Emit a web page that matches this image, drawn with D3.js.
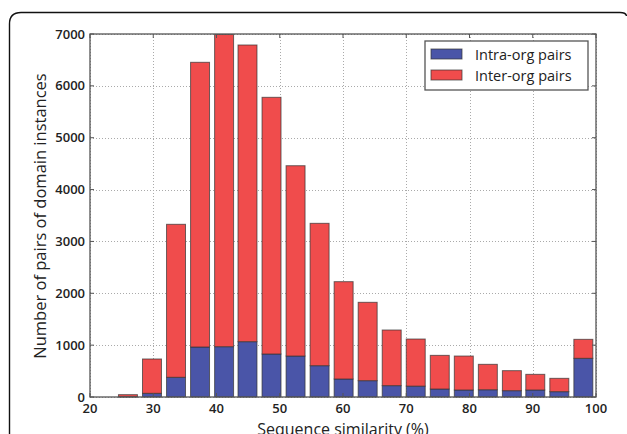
<!DOCTYPE html>
<html><head><meta charset="utf-8">
<script src="https://cdn.jsdelivr.net/npm/d3@7"></script>
<style>body{margin:0;background:#fff;} svg{display:block;}</style>
</head><body>
<svg id="c" width="627" height="434"></svg>
<script>
const binStarts = [24.5, 28.3, 32.1, 35.9, 39.7, 43.4, 47.2, 51.0, 54.8, 58.6, 62.4, 66.2, 70.0, 73.8, 77.6, 81.4, 85.2, 88.9, 92.7, 96.5];
const intraOrg = [5, 71, 380, 964, 970, 1067, 829, 790, 604, 347, 315, 219, 210, 154, 135, 140, 122, 135, 103, 746];
const totals   = [45, 733, 3330, 6454, 6990, 6788, 5779, 4460, 3349, 2224, 1826, 1292, 1118, 803, 790, 630, 508, 437, 360, 1112];
const binWidth = 3.0;
const xTicks = [20, 30, 40, 50, 60, 70, 80, 90, 100];
const yTicks = [0, 1000, 2000, 3000, 4000, 5000, 6000, 7000];
const seriesNames = ["Intra-org pairs", "Inter-org pairs"];
const colors = ["#4a55a8", "#f04c4c"];

const svg = d3.select("#c");
const font = "'Open Sans', sans-serif";

// outer rounded frame
svg.append("path")
  .attr("d", "M9.5,434 L9.5,24 Q9.5,12.5 21,12.5 L620,12.5 Q626,12.5 626.5,16")
  .attr("fill", "none").attr("stroke", "#111").attr("stroke-width", 1.4);

const L = 90, R = 596, T = 34, B = 397;
const x = d3.scaleLinear().domain([20, 100]).range([L, R]);
const y = d3.scaleLinear().domain([0, 7000]).range([B, T]);

const g = svg.append("g");

// grid
g.selectAll(".gx").data(xTicks).enter().append("line")
  .attr("x1", d => Math.round(x(d)) + 0.5).attr("x2", d => Math.round(x(d)) + 0.5)
  .attr("y1", T).attr("y2", B)
  .attr("stroke", "#aaa").attr("stroke-width", 1).attr("stroke-dasharray", "1,2");
g.selectAll(".gy").data(yTicks).enter().append("line")
  .attr("y1", d => Math.round(y(d)) + 0.5).attr("y2", d => Math.round(y(d)) + 0.5)
  .attr("x1", L).attr("x2", R)
  .attr("stroke", "#aaa").attr("stroke-width", 1).attr("stroke-dasharray", "1,2");

// bars
const data = binStarts.map((s, i) => ({s, intra: intraOrg[i], total: totals[i]}));
const bars = g.append("g");
data.forEach(d => {
  const bx = x(d.s), bw = x(d.s + binWidth) - x(d.s);
  bars.append("rect").attr("x", bx).attr("width", bw)
    .attr("y", y(d.intra)).attr("height", y(0) - y(d.intra))
    .attr("fill", colors[0]).attr("stroke", "#333").attr("stroke-width", 1).attr("stroke-opacity", 0.7);
  bars.append("rect").attr("x", bx).attr("width", bw)
    .attr("y", y(d.total)).attr("height", y(d.intra) - y(d.total))
    .attr("fill", colors[1]).attr("stroke", "#333").attr("stroke-width", 1).attr("stroke-opacity", 0.7);
});

// axes frame
g.append("rect").attr("x", L).attr("y", T).attr("width", R - L).attr("height", B - T)
  .attr("fill", "none").attr("stroke", "#555").attr("stroke-width", 1.3);

// ticks (inside)
xTicks.forEach(t => {
  const px = x(t);
  g.append("line").attr("x1", px).attr("x2", px).attr("y1", B).attr("y2", B - 4).attr("stroke", "#555");
  g.append("line").attr("x1", px).attr("x2", px).attr("y1", T).attr("y2", T + 4).attr("stroke", "#555");
});
yTicks.forEach(t => {
  const py = y(t);
  g.append("line").attr("x1", L).attr("x2", L + 4).attr("y1", py).attr("y2", py).attr("stroke", "#555");
  g.append("line").attr("x1", R).attr("x2", R - 4).attr("y1", py).attr("y2", py).attr("stroke", "#555");
});

// tick labels
g.selectAll(".xl").data(xTicks).enter().append("text")
  .attr("x", d => x(d)).attr("y", 413).attr("text-anchor", "middle")
  .attr("font-family", font).attr("font-size", 13).attr("font-weight", 600).attr("fill", "#222")
  .text(d => d);
g.selectAll(".yl").data(yTicks).enter().append("text")
  .attr("x", 85).attr("y", d => y(d) + 4.5).attr("text-anchor", "end")
  .attr("font-family", font).attr("font-size", 13).attr("font-weight", 600).attr("fill", "#222")
  .text(d => d);

// axis titles
svg.append("text").attr("x", 343).attr("y", 435).attr("text-anchor", "middle")
  .attr("font-family", font).attr("font-size", 16).attr("fill", "#222")
  .text("Sequence similarity (%)");
svg.append("text").attr("transform", "translate(46,216) rotate(-90)").attr("text-anchor", "middle")
  .attr("font-family", font).attr("font-size", 16.5).attr("fill", "#222")
  .text("Number of pairs of domain instances");

// legend
const lg = svg.append("g");
lg.append("rect").attr("x", 425).attr("y", 41).attr("width", 163).attr("height", 49)
  .attr("fill", "#fff").attr("stroke", "#555").attr("stroke-width", 1.3);
seriesNames.forEach((n, i) => {
  lg.append("rect").attr("x", 431).attr("y", 49 + i * 21).attr("width", 31).attr("height", 10)
    .attr("fill", colors[i]).attr("stroke", "#333").attr("stroke-opacity", 0.7);
  lg.append("text").attr("x", 475).attr("y", 59.5 + i * 21)
    .attr("font-family", font).attr("font-size", 14.5).attr("fill", "#222").text(n);
});
</script>
</body></html>
